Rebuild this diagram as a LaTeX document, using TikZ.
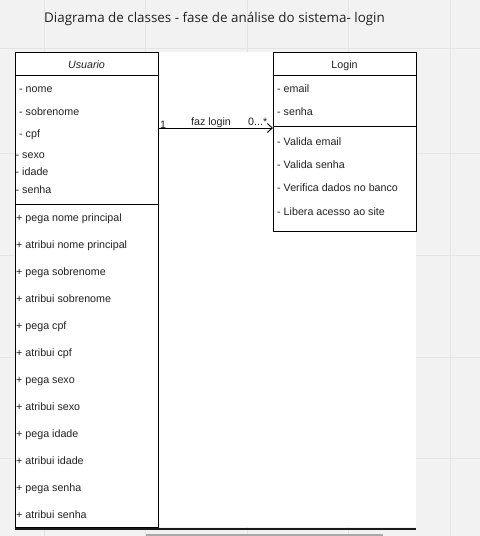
\documentclass[tikz,border=0pt]{standalone}
\usepackage{fontspec}
\setmainfont{Liberation Sans}
\newfontfamily\titlefont{Open Sans}
\usetikzlibrary{arrows.meta}
\definecolor{bg}{HTML}{F2F2F2}
\definecolor{gridc}{HTML}{E4E4E4}
\definecolor{txt}{HTML}{222222}
\definecolor{scroll}{HTML}{A8A8A8}
\begin{document}
\begin{tikzpicture}[x=1bp,y=-1bp,
  classbox/.style={draw=black,line width=0.9bp,fill=white,inner sep=0pt,anchor=north west},
  item/.style={anchor=mid west,inner sep=0pt,yshift=-1.5bp,text=txt,font=\fontsize{10.7bp}{12bp}\selectfont},
  head/.style={anchor=mid,inner sep=0pt,yshift=-1.5bp,text=txt,font=\fontsize{10.7bp}{12bp}\selectfont},
  sep/.style={draw=black,line width=0.9bp},
  gridline/.style={draw=gridc,line width=0.8bp}]
\useasboundingbox (0,0) rectangle (480,536);
\fill[bg] (0,0) rectangle (480,536);
% grid
\foreach \gx in {44,145,247,348,450} \draw[gridline] (\gx,0) -- (\gx,536);
\foreach \gy in {48,153,255,357,458} \draw[gridline] (0,\gy) -- (480,\gy);
% canvas
\fill[white] (15,52) rectangle (416,527);
\fill[black!90] (15,527.5) rectangle (416,530);
\fill[scroll] (146,533.5) rectangle (383,536);
% title
\node[anchor=mid west,inner sep=0pt,yshift=-1.5bp,text=txt,font=\titlefont\fontsize{13.4bp}{15bp}\selectfont] (title) at (44,18) {Diagrama de classes - fase de análise do sistema- login};
% Usuario
\node[classbox,minimum width=143bp,minimum height=475bp] (usuario) at (15,52) {};
\draw[sep] (15,75) -- (158,75);
\draw[sep] (15,204) -- (158,204);
\node[head,font=\fontsize{10.7bp}{12bp}\selectfont\itshape] (uname) at (86.5,64) {Usuario};
\node[item] (u1) at (19,88) {- nome};
\node[item] (u2) at (19,111) {- sobrenome};
\node[item] (u3) at (19,133) {- cpf};
\node[item] (u4) at (15.5,154) {- sexo};
\node[item] (u5) at (15.5,171) {- idade};
\node[item] (u6) at (15.5,189) {- senha};
\node[item] (m1) at (16,217) {+ pega nome principal};
\node[item] (m2) at (16,244) {+ atribui nome principal};
\node[item] (m3) at (16,271) {+ pega sobrenome};
\node[item] (m4) at (16,298) {+ atribui sobrenome};
\node[item] (m5) at (16,325) {+ pega cpf};
\node[item] (m6) at (16,352) {+ atribui cpf};
\node[item] (m7) at (16,379) {+ pega sexo};
\node[item] (m8) at (16,406) {+ atribui sexo};
\node[item] (m9) at (16,433) {+ pega idade};
\node[item] (m10) at (16,460) {+ atribui idade};
\node[item] (m11) at (16,487) {+ pega senha};
\node[item] (m12) at (16,514) {+ atribui senha};
% Login
\node[classbox,minimum width=143bp,minimum height=179bp] (login) at (273,52) {};
\draw[sep] (273,75) -- (416,75);
\draw[sep] (273,126) -- (416,126);
\node[head] (lname) at (344.5,64) {Login};
\node[item] (l1) at (277,88) {- email};
\node[item] (l2) at (277,111) {- senha};
\node[item] (l3) at (277,141) {- Valida email};
\node[item] (l4) at (277,164) {- Valida senha};
\node[item] (l5) at (277,187) {- Verifica dados no banco};
\node[item] (l6) at (277,211) {- Libera acesso ao site};
% association
\coordinate (arr) at (0,128);
\draw[line width=0.9bp,-{Straight Barb[length=5bp,width=9bp]}] (usuario.east |- arr) -- (login.west |- arr);
\node[item] (mult1) at (160,124) {1};
\node[head] (assoc) at (211,121) {faz login};
\node[item] (mult2) at (248,121) {0...*};
\end{tikzpicture}
\end{document}
